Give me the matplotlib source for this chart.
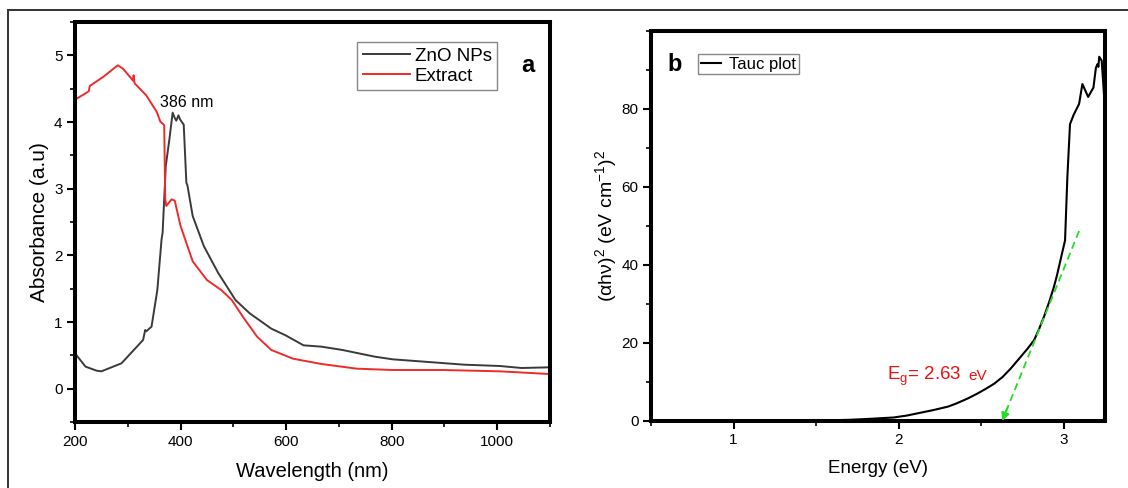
import matplotlib
matplotlib.use("Agg")
import matplotlib.pyplot as plt
from matplotlib.lines import Line2D
from matplotlib.ticker import MultipleLocator

plt.rcParams['font.family'] = ['Liberation Sans', 'DejaVu Sans']
plt.rcParams['mathtext.fontset'] = 'custom'
plt.rcParams['mathtext.rm'] = 'Liberation Sans'
plt.rcParams['mathtext.it'] = 'Liberation Sans:italic'

# --- panel a: UV-vis absorbance ---
wl_zno = [203, 220, 241, 250, 288, 329, 333, 335, 345, 356, 364, 366, 372, 379, 385, 389, 392,
          396, 399, 406, 411, 413, 423, 444, 471, 504, 531, 572, 599, 633, 667, 707, 768,
          802, 870, 937, 1005, 1046, 1098]
abs_zno = [0.50, 0.33, 0.27, 0.26, 0.38, 0.73, 0.88, 0.86, 0.93, 1.48, 2.24, 2.34, 3.34, 3.75,
           4.14, 4.06, 4.02, 4.10, 4.04, 3.96, 3.09, 3.05, 2.59, 2.14, 1.74, 1.33, 1.13, 0.90,
           0.80, 0.65, 0.63, 0.58, 0.48, 0.44, 0.40, 0.36, 0.34, 0.31, 0.32]

wl_ext = [203, 218, 226, 228, 254, 281, 291, 310, 311, 313, 335, 355, 362, 367, 369, 371,
          373, 383, 389, 400, 423, 450, 477, 497, 518, 545, 572, 613, 667, 734, 802, 897,
          1005, 1098]
abs_ext = [4.35, 4.42, 4.46, 4.54, 4.68, 4.85, 4.80, 4.62, 4.70, 4.58, 4.40, 4.15, 4.00, 3.97,
           3.95, 2.84, 2.74, 2.84, 2.82, 2.44, 1.91, 1.63, 1.48, 1.33, 1.08, 0.78, 0.58, 0.45,
           0.37, 0.30, 0.28, 0.28, 0.26, 0.22]

# --- panel b: Tauc plot ---
energy = [0.5, 1.5, 1.7, 1.8, 1.97, 2.05, 2.21, 2.3, 2.35, 2.42, 2.48, 2.53, 2.58, 2.63,
          2.68, 2.73, 2.78, 2.82, 2.85, 2.88, 2.91, 2.94, 2.96, 2.98, 3.008, 3.022, 3.038,
          3.06, 3.093, 3.113, 3.148, 3.18, 3.195, 3.205, 3.21, 3.215, 3.23, 3.245]
tauc = [0.0, 0.1, 0.3, 0.5, 0.9, 1.4, 2.8, 3.7, 4.5, 5.8, 7.1, 8.3, 9.6, 11.3,
        13.5, 16.0, 18.5, 20.7, 23.5, 26.7, 30.3, 34.3, 37.5, 41.2, 46.3, 62.5, 76.1,
        78.5, 81.3, 86.4, 83.1, 85.5, 90.6, 91.5, 90.8, 93.4, 92.4, 83.0]
fit_x = [3.093, 2.627]
fit_y = [48.7, 0.0]

fig = plt.figure(figsize=(11.28, 4.88), dpi=100)

# outer frame (cropped on right/bottom)
fig.add_artist(Line2D([8 / 1128, 1], [1 - 10 / 488, 1 - 10 / 488], color='#333333', lw=1.4,
                      transform=fig.transFigure))
fig.add_artist(Line2D([8 / 1128, 8 / 1128], [1 - 10 / 488, 0], color='#333333', lw=1.4,
                      transform=fig.transFigure))


def style(ax):
    for s in ax.spines.values():
        s.set_linewidth(2.9)
        s.set_color('black')
    ax.tick_params(which='both', direction='out', top=False, right=False,
                   labelsize=11, colors='black', pad=3)
    ax.tick_params(which='major', length=6, width=1.5)
    ax.tick_params(which='minor', length=3.5, width=1.2)


ax1 = fig.add_axes([75 / 1128, 1 - 422 / 488, 475 / 1128, 400 / 488])
ax1.plot(wl_zno, abs_zno, color='#3a3a3a', lw=1.4, label='ZnO NPs')
ax1.plot(wl_ext, abs_ext, color='#ee2a2a', lw=1.4, label='Extract')
ax1.set_xlim(200, 1100)
ax1.set_ylim(-0.5, 5.5)
ax1.xaxis.set_major_locator(MultipleLocator(200))
ax1.xaxis.set_minor_locator(MultipleLocator(100))
ax1.yaxis.set_major_locator(MultipleLocator(1))
ax1.yaxis.set_minor_locator(MultipleLocator(0.5))
style(ax1)
ax1.set_xlabel('Wavelength (nm)', fontsize=14.5)
ax1.set_ylabel('Absorbance (a.u)', fontsize=15)
ax1.xaxis.set_label_coords(0.5, -0.1)
ax1.yaxis.set_label_coords(-0.055, 0.5)
ax1.text(411, 4.29, '386 nm', fontsize=11.5, ha='center', va='center')
ax1.text(0.954, 0.8925, 'a', transform=ax1.transAxes, fontsize=17, fontweight='bold',
         ha='center', va='center')
leg1 = ax1.legend(loc='upper right', bbox_to_anchor=(0.889, 0.95), borderaxespad=0,
                  fontsize=13.5, fancybox=False, edgecolor='#888888', framealpha=1,
                  labelspacing=0.15, borderpad=0.3, handlelength=2.5, handletextpad=0.25)
leg1.get_frame().set_linewidth(1.0)

ax2 = fig.add_axes([651 / 1128, 1 - 421 / 488, 454 / 1128, 390 / 488])
ax2.plot(energy, tauc, color='black', lw=1.5, label='Tauc plot')
ax2.plot(fit_x, fit_y, color='#22dd22', lw=1.3, ls=(0, (4, 2.5)))
ax2.annotate('', xy=(fit_x[1], fit_y[1]), xytext=(2.66, 3.5),
             arrowprops=dict(arrowstyle='-|>', color='#22dd22', lw=1.3,
                             mutation_scale=12, shrinkA=0, shrinkB=0))
ax2.set_xlim(0.5, 3.25)
ax2.set_ylim(0, 100)
ax2.set_yticks([0, 20, 40, 60, 80])
ax2.xaxis.set_major_locator(MultipleLocator(1))
ax2.xaxis.set_minor_locator(MultipleLocator(0.5))
ax2.yaxis.set_minor_locator(MultipleLocator(10))
style(ax2)
ax2.set_xlabel('Energy (eV)', fontsize=13.5)
ax2.set_ylabel(r'$\mathregular{(\alpha h\nu)^2\ (eV\ cm^{-1})^2}$', fontsize=14)
ax2.xaxis.set_label_coords(0.5, -0.1)
ax2.yaxis.set_label_coords(-0.07, 0.5)
ax2.text(1.928, 10.5, r'E$_\mathregular{g}$= 2.63', color='#ee1111', fontsize=13.5, va='baseline')
ax2.text(2.42, 10.5, 'eV', color='#ee1111', fontsize=11, va='baseline')
ax2.text(0.053, 0.913, 'b', transform=ax2.transAxes, fontsize=17, fontweight='bold',
         ha='center', va='center')
leg2 = ax2.legend(loc='upper left', bbox_to_anchor=(0.1035, 0.941), borderaxespad=0,
                  fontsize=12, fancybox=False, edgecolor='#888888', framealpha=1,
                  borderpad=0.16, handlelength=1.2, handletextpad=0.5)
leg2.get_frame().set_linewidth(1.0)

fig.savefig('out.png', dpi=100)
